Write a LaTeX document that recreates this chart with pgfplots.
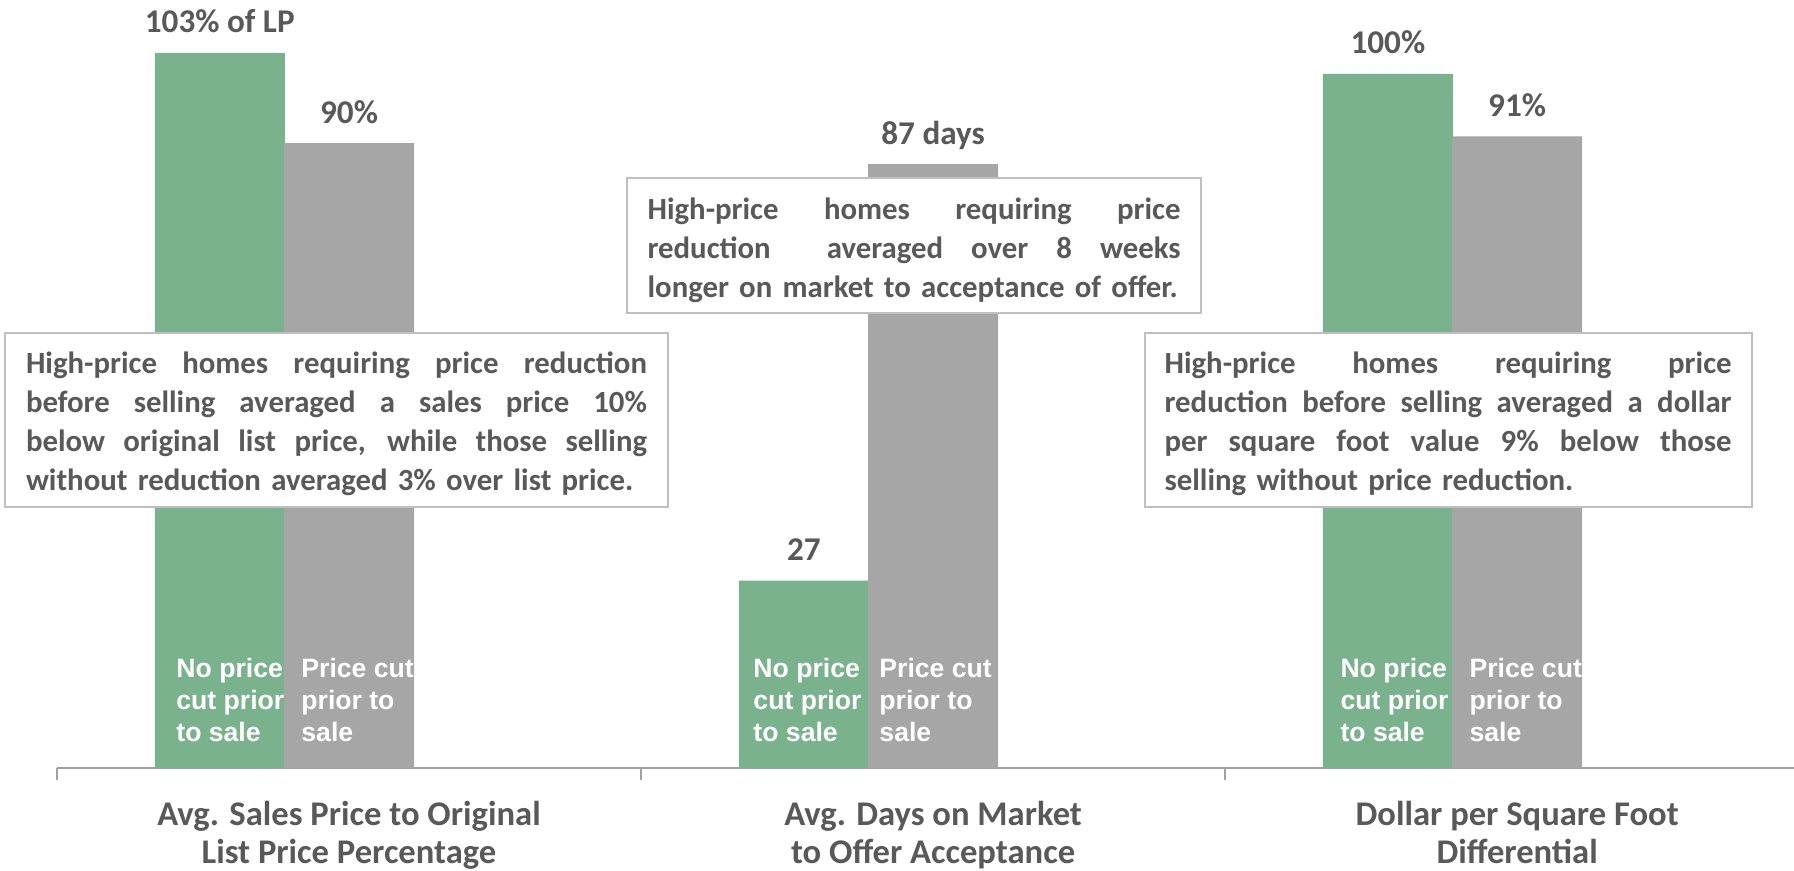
\documentclass[border=0pt]{standalone}
\usepackage{fontspec}
\setmainfont{Carlito}
\newfontfamily\arialfont{Liberation Sans}
\usepackage{pgfplots}
\pgfplotsset{compat=1.18}

\definecolor{barGreen}{HTML}{7BB28E}
\definecolor{barGray}{HTML}{A6A6A6}
\definecolor{textGray}{HTML}{595959}
\definecolor{axisGray}{HTML}{A0A0A0}
\definecolor{boxGray}{HTML}{BFBFBF}

% one justified line of a callout box: width, text
\newcommand\J[2]{\makebox[#1][s]{\spaceskip=0.22em plus 1fil\xspaceskip=\spaceskip #2}}

\tikzset{
    callout/.style={draw=boxGray, line width=1pt, fill=white, text=textGray,
        font=\bfseries\fontsize{15.4}{19.5}\selectfont, align=left},
    inlabel/.style={anchor=north west, align=left, inner sep=0pt, text=white,
        font=\arialfont\bfseries\fontsize{13.3}{15.8}\selectfont},
    catlabel/.style={anchor=base, text=textGray, inner sep=0pt,
        font=\bfseries\fontsize{17.3}{19}\selectfont},
}

\begin{document}
\begin{tikzpicture}
\begin{axis}[
    at={(0,0)}, anchor=south west,
    scale only axis, width=868.5pt, height=384pt,
    xmin=0, xmax=2.974, ymin=0, ymax=110.63,
    axis x line*=bottom, axis y line=none,
    x axis line style={draw=axisGray, line width=1pt, -},
    xtick={0,1,2}, xticklabels={}, ytick=\empty,
    tick align=outside, major tick length=6pt,
    tick style={draw=axisGray, line width=0.8pt},
    clip=false,
]
% no price cut prior to sale
\addplot[ybar, bar width=0.2226, bar shift=0pt, fill=barGreen, draw=none,
    point meta=explicit symbolic, nodes near coords,
    every node near coord/.append style={anchor=base, yshift=10pt, text=textGray,
        font=\bfseries\fontsize{16.6}{19}\selectfont}]
    coordinates {(0.2787,103)[103\% of LP] (1.2787,27)[27] (2.2787,100)[100\%]};
% price cut prior to sale
\addplot[ybar, bar width=0.2226, bar shift=0pt, fill=barGray, draw=none,
    point meta=explicit symbolic, nodes near coords,
    every node near coord/.append style={anchor=base, yshift=10pt, text=textGray,
        font=\bfseries\fontsize{16.6}{19}\selectfont}]
    coordinates {(0.5,90)[90\%] (1.5,87)[87 days] (2.5,91)[91\%]};

% labels inside the bars
\node[inlabel] at (axis cs:0.2038,15.8) {No price\\cut prior\\to sale};
\node[inlabel] at (axis cs:0.4178,15.8) {Price cut\\prior to\\sale};
\node[inlabel] at (axis cs:1.1918,15.8) {No price\\cut prior\\to sale};
\node[inlabel] at (axis cs:1.4075,15.8) {Price cut\\prior to\\sale};
\node[inlabel] at (axis cs:2.1969,15.8) {No price\\cut prior\\to sale};
\node[inlabel] at (axis cs:2.4178,15.8) {Price cut\\prior to\\sale};

% callout boxes
\node[callout, text width=310.5pt, inner xsep=10.5pt, minimum height=87pt]
    at (axis cs:0.4786,50.13) {%
    \rule{0pt}{14.5pt}\J{310.5pt}{High-price homes requiring price reduction}\\
    \J{310.5pt}{before selling averaged a sales price 10\%}\\
    \J{310.5pt}{below original list price, while those selling}\\
    without reduction averaged 3\% over list price.};
\node[callout, text width=266.5pt, inner xsep=10.25pt, minimum height=67.5pt]
    at (axis cs:1.4675,75.27) {%
    \rule{0pt}{15.5pt}\J{266.5pt}{High-price homes requiring price}\\
    \J{266.5pt}{reduction\ \ averaged over 8 weeks}\\
    longer on market to acceptance of offer.};
\node[callout, text width=283.5pt, inner xsep=10pt, minimum height=87pt]
    at (axis cs:2.3818,50.13) {%
    \rule{0pt}{14.5pt}\J{283.5pt}{High-price homes requiring price}\\
    \J{283.5pt}{reduction before selling averaged a dollar}\\
    \J{283.5pt}{per square foot value 9\% below those}\\
    selling without price reduction.};

% category labels
\node[catlabel, yshift=-29pt] at (axis cs:0.5,0) {Avg. Sales Price to Original};
\node[catlabel, yshift=-48pt] at (axis cs:0.5,0) {List Price Percentage};
\node[catlabel, yshift=-29pt] at (axis cs:1.5,0) {Avg. Days on Market};
\node[catlabel, yshift=-48pt] at (axis cs:1.5,0) {to Offer Acceptance};
\node[catlabel, yshift=-29pt] at (axis cs:2.5,0) {Dollar per Square Foot};
\node[catlabel, yshift=-48pt] at (axis cs:2.5,0) {Differential};
\end{axis}
\pgfresetboundingbox
\path[use as bounding box] (-28.5pt,-51.5pt) rectangle (868.5pt,384pt);
\end{tikzpicture}
\end{document}
